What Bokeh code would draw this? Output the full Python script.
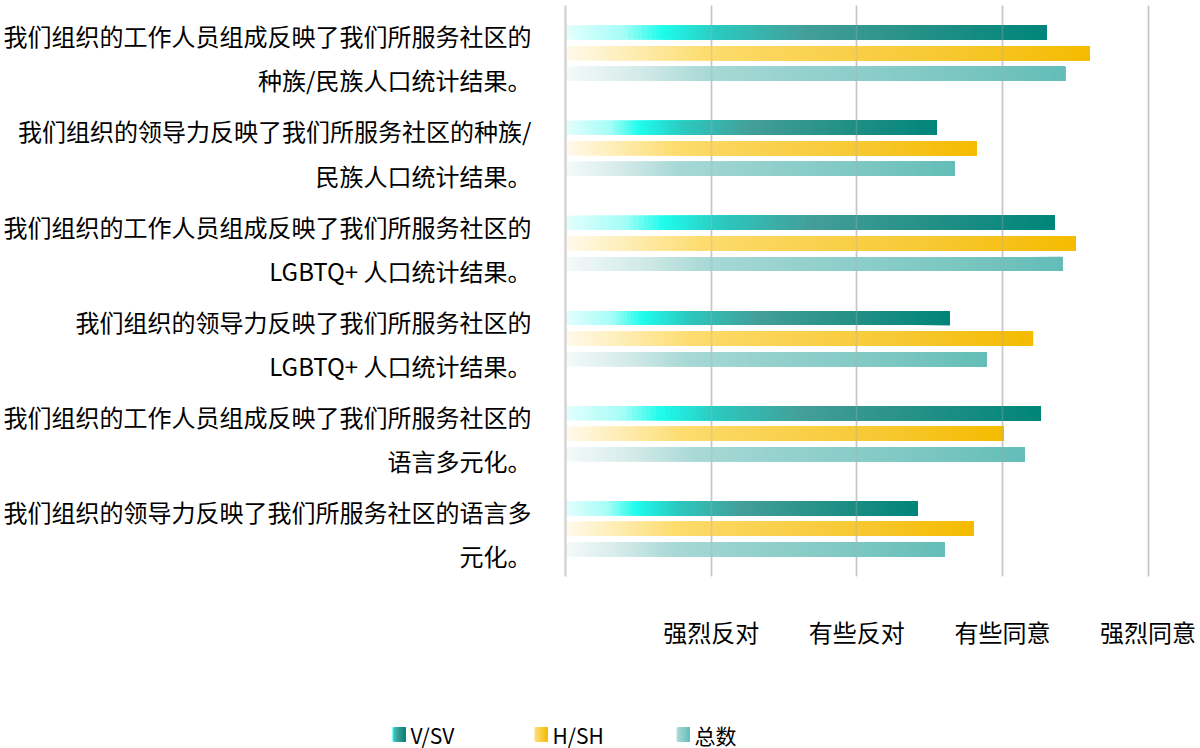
import numpy as np
from bokeh.plotting import figure
from bokeh.layouts import column
from bokeh.models import Range1d, FixedTicker, Grid, ColumnDataSource
from bokeh.core.properties import value
from bokeh.embed import file_html
from bokeh.resources import INLINE

# ---------------- data ----------------
statements = [
    "我们组织的工作人员组成反映了我们所服务社区的\n种族/民族人口统计结果。",
    "我们组织的领导力反映了我们所服务社区的种族/\n民族人口统计结果。",
    "我们组织的工作人员组成反映了我们所服务社区的\nLGBTQ+ 人口统计结果。",
    "我们组织的领导力反映了我们所服务社区的\nLGBTQ+ 人口统计结果。",
    "我们组织的工作人员组成反映了我们所服务社区的\n语言多元化。",
    "我们组织的领导力反映了我们所服务社区的语言多\n元化。",
]
scale_values = [1, 2, 3, 4]
scale_labels = ["强烈反对", "有些反对", "有些同意", "强烈同意"]
series_names = ["V/SV", "H/SH", "总数"]
vsv = [3.30, 2.55, 3.36, 2.64, 3.26, 2.42]
hsh = [3.60, 2.82, 3.50, 3.21, 3.01, 2.80]
total = [3.43, 2.67, 3.41, 2.89, 3.15, 2.60]

# ---------------- styles ----------------
gradients = [
    [(0.0, "#e4fefd"), (0.12, "#a6fdf7"), (0.2, "#1efcec"), (0.32, "#2cc8be"),
     (0.5, "#449e99"), (0.75, "#239086"), (1.0, "#00857a")],
    [(0.0, "#fffaec"), (0.15, "#feeaa8"), (0.27, "#fddc6e"), (0.4, "#fbd55a"),
     (0.7, "#f7c935"), (1.0, "#f5bb00")],
    [(0.0, "#f5fafa"), (0.15, "#d3eae9"), (0.28, "#a9d9d6"), (0.45, "#97d2ce"),
     (0.75, "#7fc8c3"), (1.0, "#63bdb8")],
]
offsets = [-0.216, 0.0, 0.216]
bar_h = 0.148
label_shift = 0.05
N = 100
FONT = "Noto Sans CJK SC"


def hex2rgb(h):
    h = h.lstrip("#")
    return np.array([int(h[i:i + 2], 16) for i in (0, 2, 4)], dtype=float)


def grad_color(stops, t):
    for (t0, c0), (t1, c1) in zip(stops[:-1], stops[1:]):
        if t <= t1:
            f = (t - t0) / (t1 - t0) if t1 > t0 else 0
            c = hex2rgb(c0) * (1 - f) + hex2rgb(c1) * f
            return "#%02x%02x%02x" % tuple(int(round(x)) for x in c)
    return stops[-1][1]


p = figure(width=1200, height=700, output_backend="svg", toolbar_location=None,
           x_range=Range1d(0, 4.36), y_range=Range1d(5.5, -0.5),
           min_border_left=565, min_border_right=0, min_border_top=5,
           min_border_bottom=124)
p.frame_align = False
p.outline_line_color = None
p.background_fill_color = "white"
p.border_fill_color = "white"

p.ygrid.visible = False
p.xgrid.ticker = FixedTicker(ticks=scale_values)
p.xgrid.grid_line_color = "#d0d0d0"
p.xgrid.grid_line_width = 1.6

for s, vals in enumerate([vsv, hsh, total]):
    L, R, B, T, C = [], [], [], [], []
    for i, v in enumerate(vals):
        yc = i + offsets[s]
        for k in range(N):
            L.append(v * k / N)
            R.append(v)
            B.append(yc - bar_h / 2)
            T.append(yc + bar_h / 2)
            C.append(grad_color(gradients[s], (k + 0.5) / N))
    src = ColumnDataSource(dict(left=L, right=R, bottom=B, top=T, color=C))
    p.quad(left="left", right="right", bottom="bottom", top="top",
           fill_color="color", line_color=None, source=src)

over = Grid(dimension=0, ticker=FixedTicker(ticks=scale_values),
            grid_line_color="#b0b0b0", grid_line_alpha=0.3,
            grid_line_width=1.6, level="overlay")
p.add_layout(over)

# y axis
ytick_pos = [i + label_shift for i in range(len(statements))]
p.yaxis.ticker = FixedTicker(ticks=ytick_pos)
p.yaxis.major_label_overrides = {t: s for t, s in zip(ytick_pos, statements)}
p.yaxis.major_tick_line_color = None
p.yaxis.minor_tick_line_color = None
p.yaxis.axis_line_color = "#d4d4d4"
p.yaxis.axis_line_width = 2.5
p.yaxis.major_label_standoff = 28
p.yaxis.major_label_text_font = FONT
p.yaxis.major_label_text_font_size = "24px"
p.yaxis.major_label_text_color = "#000000"
p.yaxis.major_label_text_line_height = 1.26
p.yaxis.major_label_text_align = "right"

# x axis
p.xaxis.ticker = FixedTicker(ticks=scale_values)
p.xaxis.major_label_overrides = {v: t for v, t in zip(scale_values, scale_labels)}
p.xaxis.axis_line_color = None
p.xaxis.major_tick_line_color = None
p.xaxis.minor_tick_line_color = None
p.xaxis.major_label_standoff = 31
p.xaxis.major_label_text_font = FONT
p.xaxis.major_label_text_font_size = "24px"
p.xaxis.major_label_text_color = "#000000"

# ---------------- legend strip (gradient swatches) ----------------
lg = figure(width=1200, height=48, output_backend="svg", toolbar_location=None,
            x_range=Range1d(0, 1200), y_range=Range1d(0, 48),
            min_border=0)
lg.frame_align = False
lg.axis.visible = False
lg.grid.visible = False
lg.outline_line_color = None
leg_x0, leg_step, sw_w, sw_y, sw_h, M = 392, 142, 13, 14, 14, 26
for s, name in enumerate(series_names):
    x0 = leg_x0 + s * leg_step
    L, R, C = [], [], []
    for k in range(M):
        L.append(x0 + sw_w * k / M)
        R.append(x0 + sw_w)
        C.append(grad_color(gradients[s], 0.2 + 0.8 * (k + 0.5) / M))
    lg.quad(left=L, right=R, bottom=sw_y - sw_h / 2, top=sw_y + sw_h / 2,
            fill_color=C, line_color=None)
    lg.text(x=[x0 + sw_w + 5], y=[sw_y], text=[name], text_font=value(FONT),
            text_font_size="21px", text_baseline="middle", text_color="#000000")

open("out.html", "w").write(file_html(column(p, lg, spacing=0), INLINE))
